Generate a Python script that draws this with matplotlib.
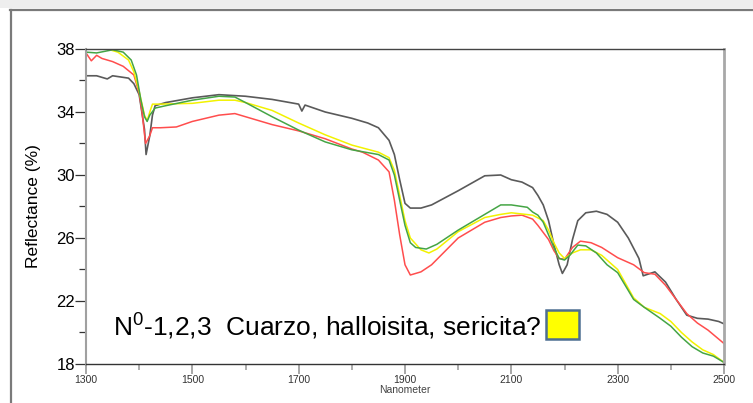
import numpy as np
import matplotlib.pyplot as plt
from matplotlib.patches import Rectangle
from matplotlib.ticker import MultipleLocator

plt.rcParams['font.family'] = ['Liberation Sans', 'DejaVu Sans']
plt.rcParams['mathtext.fontset'] = 'custom'
plt.rcParams['mathtext.rm'] = 'Liberation Sans'

# spectra (wavelength nm, reflectance %)
wl_black = [1300, 1320, 1340, 1350, 1380, 1390, 1400, 1410, 1413, 1420, 1425, 1430, 1450,
            1500, 1550, 1600, 1650, 1700, 1706, 1712, 1750, 1800, 1830, 1850, 1870, 1880,
            1890, 1900, 1910, 1930, 1950, 2000, 2050, 2080, 2100, 2120, 2140, 2150, 2160,
            2170, 2180, 2190, 2196, 2205, 2215, 2225, 2240, 2260, 2280, 2300, 2320, 2340,
            2348, 2370, 2390, 2410, 2430, 2450, 2470, 2490, 2500]
refl_black = [36.3, 36.3, 36.1, 36.3, 36.15, 35.8, 35.1, 32.9, 31.3, 32.5, 33.8, 34.4, 34.6,
              34.9, 35.1, 35.0, 34.8, 34.5, 34.06, 34.44, 34.0, 33.6, 33.3, 33.0, 32.2, 31.3,
              29.7, 28.2, 27.9, 27.9, 28.1, 29.0, 29.95, 30.0, 29.7, 29.55, 29.2, 28.7, 28.1,
              27.1, 25.6, 24.3, 23.75, 24.3, 25.9, 27.1, 27.6, 27.7, 27.5, 27.0, 26.0, 24.7,
              23.6, 23.85, 23.2, 22.1, 21.1, 20.9, 20.85, 20.7, 20.55]

wl_red = [1300, 1310, 1320, 1330, 1350, 1370, 1390, 1400, 1405, 1412, 1420, 1425, 1440,
          1470, 1500, 1550, 1580, 1600, 1650, 1700, 1750, 1800, 1820, 1850, 1870, 1880,
          1890, 1900, 1910, 1930, 1950, 2000, 2050, 2080, 2100, 2120, 2140, 2150, 2170,
          2180, 2190, 2200, 2215, 2230, 2250, 2270, 2300, 2330, 2350, 2370, 2390, 2410,
          2430, 2450, 2470, 2500]
refl_red = [37.75, 37.25, 37.6, 37.4, 37.2, 36.9, 36.35, 35.2, 34.1, 32.0, 32.5, 33.0, 33.0,
            33.05, 33.4, 33.8, 33.9, 33.7, 33.2, 32.8, 32.3, 31.65, 31.45, 30.95, 30.2, 28.4,
            26.2, 24.3, 23.65, 23.85, 24.3, 26.0, 27.0, 27.3, 27.4, 27.45, 27.2, 26.8, 25.9,
            25.2, 24.7, 24.65, 25.4, 25.8, 25.7, 25.4, 24.75, 24.3, 23.8, 23.7, 23.0, 22.1,
            21.2, 20.6, 20.15, 19.3]

wl_yellow = [1300, 1340, 1360, 1380, 1390, 1400, 1410, 1415, 1420, 1425, 1440, 1500, 1550,
             1580, 1600, 1650, 1700, 1750, 1800, 1850, 1870, 1880, 1890, 1900, 1910, 1930,
             1945, 1960, 2000, 2050, 2080, 2100, 2140, 2160, 2170, 2180, 2190, 2200, 2215,
             2230, 2250, 2270, 2290, 2300, 2330, 2350, 2380, 2400, 2420, 2440, 2460, 2480,
             2500]
refl_yellow = [38.0, 38.0, 37.8, 37.3, 36.55, 35.3, 33.8, 33.45, 34.0, 34.5, 34.5, 34.55, 34.75,
               34.75, 34.6, 34.1, 33.3, 32.55, 31.9, 31.45, 31.1, 30.3, 28.7, 27.1, 26.0, 25.25,
               25.05, 25.3, 26.4, 27.3, 27.5, 27.6, 27.45, 27.1, 26.5, 25.7, 25.05, 24.7, 25.05,
               25.25, 25.25, 24.9, 24.3, 24.0, 22.2, 21.6, 21.2, 20.7, 20.0, 19.4, 18.9, 18.6,
               18.1]

wl_green = [1300, 1320, 1350, 1370, 1385, 1395, 1403, 1410, 1415, 1420, 1430, 1450, 1500,
            1550, 1580, 1600, 1650, 1700, 1750, 1800, 1850, 1870, 1880, 1890, 1900, 1910,
            1920, 1940, 1960, 2000, 2050, 2080, 2100, 2130, 2140, 2150, 2160, 2170, 2180,
            2190, 2200, 2210, 2225, 2240, 2260, 2280, 2300, 2330, 2350, 2380, 2400, 2420,
            2440, 2460, 2480, 2500]
refl_green = [37.8, 37.75, 37.95, 37.8, 37.3, 36.35, 34.8, 33.7, 33.4, 33.8, 34.25, 34.4, 34.75,
              35.0, 34.95, 34.6, 33.7, 32.85, 32.1, 31.6, 31.3, 30.95, 30.0, 28.4, 26.8, 25.7,
              25.4, 25.3, 25.6, 26.5, 27.5, 28.1, 28.1, 27.95, 27.65, 27.45, 27.0, 26.2, 25.4,
              24.7, 24.6, 24.9, 25.55, 25.5, 25.05, 24.3, 23.8, 22.1, 21.6, 20.9, 20.4, 19.7,
              19.1, 18.7, 18.5, 18.1]

y_ticks = [18, 22, 26, 30, 34, 38]
x_ticks = [1300, 1500, 1700, 1900, 2100, 2300, 2500]
label = r'N$^\mathregular{0}$-1,2,3  Cuarzo, halloisita, sericita?'

fig = plt.figure(figsize=(7.53, 4.03), dpi=100)
fig.patch.set_facecolor('white')

# outer frame like the original screenshot
fig.add_artist(Rectangle((0, 1 - 8 / 403), 1, 8 / 403, transform=fig.transFigure,
                         facecolor='#eeeeee', edgecolor='none'))
fig.add_artist(plt.Line2D([10 / 753, 1], [1 - 9.5 / 403] * 2, transform=fig.transFigure,
                          color='#7a7a7a', lw=1.6))
fig.add_artist(plt.Line2D([10.5 / 753] * 2, [0, 1 - 9.5 / 403], transform=fig.transFigure,
                          color='#7a7a7a', lw=1.6))

ax = fig.add_axes([86 / 753, 1 - 364 / 403, 638 / 753, 315 / 403])
ax.plot(wl_black, refl_black, color='#5a5a5a', lw=1.2)
ax.plot(wl_red, refl_red, color='#ff4d4d', lw=1.1)
ax.plot(wl_yellow, refl_yellow, color='#f2f200', lw=1.1)
ax.plot(wl_green, refl_green, color='#45a545', lw=1.1)

ax.set_xlim(1300, 2500)
ax.set_ylim(18, 38)
ax.set_xticks(x_ticks)
ax.set_yticks(y_ticks)
ax.xaxis.set_minor_locator(MultipleLocator(100))
ax.yaxis.set_minor_locator(MultipleLocator(2))

ax.spines['top'].set_color('#444444')
ax.spines['top'].set_linewidth(1.0)
ax.spines['bottom'].set_color('#333333')
ax.spines['bottom'].set_linewidth(1.0)
ax.spines['left'].set_color('#a0a0a0')
ax.spines['left'].set_linewidth(1.5)
ax.spines['right'].set_color('#a8a8a8')
ax.spines['right'].set_linewidth(2.0)

ax.tick_params(axis='x', which='major', direction='out', length=7, width=1.3,
               color='#a0a0a0', labelsize=7.5, labelcolor='#333333', pad=1)
ax.tick_params(axis='x', which='minor', direction='out', length=4, width=1.2,
               color='#a0a0a0')
ax.tick_params(axis='y', which='major', direction='out', length=8, width=0.9,
               color='#333333', labelsize=12, pad=0)
ax.tick_params(axis='y', which='minor', direction='out', length=5, width=0.9,
               color='#333333')

ax.set_xlabel('Nanometer', fontsize=7.5, color='#444444', labelpad=0)
ax.set_ylabel('Reflectance (%)', fontsize=12.5, labelpad=11)

fig.text(113 / 753, 1 - 335 / 403, label, fontsize=19, va='baseline', ha='left')
fig.add_artist(Rectangle((546 / 753, 1 - 339 / 403), 33 / 753, 29 / 403,
                         transform=fig.transFigure, facecolor='#ffff00',
                         edgecolor='#4d6f91', lw=1.8))

fig.savefig('out.png', dpi=100)
